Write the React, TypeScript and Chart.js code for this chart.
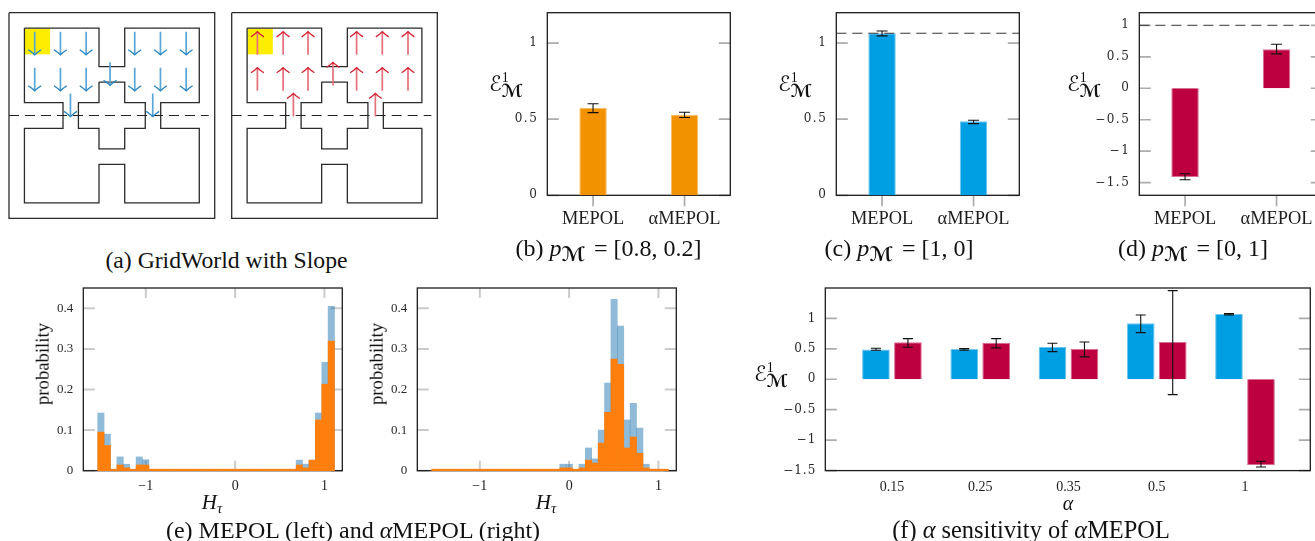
import React, { useEffect, useRef } from "react";
import { Chart, registerables } from "chart.js";

Chart.register(...registerables);

// ---- data ----
const METHODS = ["MEPOL", "αMEPOL"];
const B_VALUES = [0.575, 0.53];
const B_ERR_LOW = [0.543, 0.511];
const B_ERR_HIGH = [0.602, 0.546];
const C_VALUES = [1.065, 0.487];
const C_ERR_LOW = [1.048, 0.471];
const C_ERR_HIGH = [1.08, 0.493];
const C_OPTIMUM = 1.065;
const D_VALUES = [-1.41, 0.62];
const D_ERR_LOW = [-1.452, 0.546];
const D_ERR_HIGH = [-1.357, 0.7];
const D_OPTIMUM = 1;

const ALPHA_LABELS = ["0.15", "0.25", "0.35", "0.5", "1"];
const ALPHA_POS = [0, 1, 2, 3, 4];
const F_BLUE = [0.49, 0.498, 0.53, 0.92, 1.073];
const F_BLUE_LOW = [0.476, 0.478, 0.454, 0.766, 1.056];
const F_BLUE_HIGH = [0.509, 0.505, 0.591, 1.056, 1.078];
const F_RED = [0.607, 0.6, 0.498, 0.613, -1.407];
const F_RED_LOW = [0.525, 0.515, 0.367, -0.252, -1.44];
const F_RED_HIGH = [0.668, 0.668, 0.613, 1.456, -1.346];

const BIN_CENTERS = [-1.503, -1.431, -1.36, -1.288, -1.216, -1.145, -1.073, -1.001, -0.93, -0.858, -0.786, -0.715, -0.643, -0.571, -0.5, -0.428, -0.356, -0.284, -0.213, -0.141, -0.069, 0.002, 0.074, 0.146, 0.217, 0.289, 0.361, 0.432, 0.504, 0.576, 0.647, 0.719, 0.791, 0.862, 0.934, 1.006, 1.077];
const E1_BLUE = [0.142, 0.09, 0, 0.034, 0.016, 0, 0.034, 0.027, 0, 0, 0, 0, 0, 0, 0, 0, 0, 0, 0, 0, 0, 0, 0, 0, 0, 0, 0, 0, 0, 0, 0, 0.026, 0.016, 0.026, 0.142, 0.267, 0.405];
const E1_ORANGE = [0.095, 0.062, 0, 0.014, 0.007, 0, 0.014, 0.014, 0, 0, 0, 0, 0, 0, 0, 0, 0, 0, 0, 0, 0, 0, 0, 0, 0, 0, 0, 0, 0, 0, 0, 0.014, 0.007, 0.026, 0.125, 0.213, 0.319];
const E2_BLUE = [0, 0, 0, 0, 0, 0, 0, 0, 0, 0, 0, 0, 0, 0, 0, 0, 0, 0, 0, 0, 0.016, 0.016, 0, 0.016, 0.056, 0.029, 0.1, 0.216, 0.422, 0.356, 0.125, 0.166, 0.105, 0.016, 0, 0, 0];
const E2_ORANGE = [0, 0, 0, 0, 0, 0, 0, 0, 0, 0, 0, 0, 0, 0, 0, 0, 0, 0, 0, 0, 0.007, 0.007, 0, 0.007, 0.026, 0.019, 0.068, 0.144, 0.275, 0.262, 0.056, 0.083, 0.043, 0.007, 0, 0, 0];

// GridWorld geometry, in grid cells
const WORLD_SIZE = 8;
const OUTER_WALL = [[0.6, 0.6], [3.5, 0.6], [3.5, 2.1], [4.5, 2.1], [4.5, 0.6], [7.4, 0.6], [7.4, 3.5], [5.9, 3.5], [5.9, 4.5], [7.4, 4.5], [7.4, 7.4], [4.5, 7.4], [4.5, 5.9], [3.5, 5.9], [3.5, 7.4], [0.6, 7.4], [0.6, 4.5], [2.1, 4.5], [2.1, 3.5], [0.6, 3.5], [0.6, 0.6]];
const CROSS_WALL = [[3.5, 2.7], [4.5, 2.7], [4.5, 3.5], [5.3, 3.5], [5.3, 4.5], [4.5, 4.5], [4.5, 5.3], [3.5, 5.3], [3.5, 4.5], [2.7, 4.5], [2.7, 3.5], [3.5, 3.5], [3.5, 2.7]];
const FRAME_WALL = [[0, 0], [8, 0], [8, 8], [0, 8], [0, 0]];
const SLOPE_LINE = [[0, 4], [7.77, 4]];
const START_CELL = [0.62, 0.62, 1.6, 1.62];
// x, upper y of each arrow
const DOWN_ARROWS = [[1, 0.74], [2, 0.74], [3, 0.74], [4.89, 0.74], [5.89, 0.74], [6.89, 0.74], [1, 2.14], [2, 2.14], [3, 2.14], [4.89, 2.14], [5.89, 2.14], [6.89, 2.14], [3.93, 1.93], [2.39, 3.14], [5.59, 3.14]];
const UP_ARROWS = [[1, 0.74], [2, 0.74], [2.97, 0.74], [4.86, 0.74], [5.86, 0.74], [6.86, 0.74], [1, 2.14], [2, 2.14], [2.97, 2.14], [4.86, 2.14], [5.86, 2.14], [6.86, 2.14], [3.94, 1.93], [2.4, 3.14], [5.59, 3.14]];
const ARROW_LENGTH = 0.9;

// ---- styling ----
const BLUE = "#009FE3";
const BLUE_EDGE = "#6cc6ee";
const RED = "#BC0040";
const RED_EDGE = "#d96a90";
const ORANGE = "#F39200";
const ORANGE_EDGE = "#f8bd66";
const HIST_BLUE = "rgba(31,119,180,0.5)";
const HIST_ORANGE = "#FF7F0E";
const SERIF = "'Liberation Serif', serif";
const TICK_SERIF = "'DejaVu Serif', serif";
const TICK_GREY = "#acacac";
const FRAME = "#1c1c1c";

type Box = { l: number; t: number; r: number; b: number };
type Margins = { L: number; T: number; R: number; B: number };

function canvasRect(box: Box, pad: { l: number; t: number; r: number; b: number }) {
  const left = Math.floor(box.l - pad.l);
  const top = Math.floor(box.t - pad.t);
  const right = Math.ceil(box.r + pad.r);
  const bottom = Math.ceil(box.b + pad.b);
  return { left, top, w: right - left, h: bottom - top, M: { L: box.l - left, T: box.t - top, R: right - box.r, B: bottom - box.b } };
}

const PANEL_PAD = { l: 70, t: 6, r: 8, b: 48 };
const WORLD_PAD = { l: 2, t: 2, r: 2, b: 2 };

const fmt = (v: number) => {
  const s = String(Math.abs(Math.round(v * 100) / 100));
  return v < 0 ? "\u2212" + s : s;
};

function overlay(o: any) {
  return {
    id: "overlay",
    beforeDraw(c: any) {
      if (o.spacing) c.ctx.letterSpacing = o.spacing;
    },
    beforeDatasetsDraw(c: any) {
      const { ctx, chartArea: a, scales } = c;
      const { x, y } = scales;
      ctx.letterSpacing = "0px";
      ctx.save();
      ctx.strokeStyle = o.tickColor || TICK_GREY;
      ctx.lineWidth = o.tickWidth || 1.7;
      ctx.beginPath();
      const len = 11.5;
      y.ticks.forEach((t: any) => {
        const p = y.getPixelForValue(t.value);
        ctx.moveTo(a.left, p);
        ctx.lineTo(a.left + len, p);
        ctx.moveTo(a.right, p);
        ctx.lineTo(a.right - len, p);
      });
      if (o.xTicks) {
        x.ticks.forEach((t: any, i: number) => {
          const p = x.getPixelForTick(i);
          if (o.xTicks === "outer") {
            ctx.moveTo(p, a.bottom);
            ctx.lineTo(p, a.bottom + 11);
          } else {
            ctx.moveTo(p, a.top);
            ctx.lineTo(p, a.top + 10);
            ctx.moveTo(p, a.bottom);
            ctx.lineTo(p, a.bottom - 10);
          }
        });
      }
      ctx.stroke();
      ctx.strokeStyle = FRAME;
      ctx.lineWidth = 1.3;
      ctx.strokeRect(a.left, a.top, a.right - a.left, a.bottom - a.top);
      ctx.restore();
    },
    afterDatasetsDraw(c: any) {
      const { ctx, chartArea: a, scales } = c;
      const { y } = scales;
      ctx.save();
      if (o.ref !== undefined) {
        const p = y.getPixelForValue(o.ref);
        ctx.strokeStyle = "#333";
        ctx.lineWidth = 1;
        ctx.setLineDash([10, 6]);
        ctx.beginPath();
        ctx.moveTo(a.left, p);
        ctx.lineTo(a.right, p);
        ctx.stroke();
        ctx.setLineDash([]);
      }
      if (o.err) {
        ctx.strokeStyle = "#111";
        ctx.lineWidth = 1.1;
        const cap = o.cap || 5.5;
        o.err.forEach((e: number[][], di: number) => {
          const els = c.getDatasetMeta(di).data;
          e[0].forEach((low: number, j: number) => {
            const cx = els[j].x;
            const p0 = y.getPixelForValue(low);
            const p1 = y.getPixelForValue(e[1][j]);
            ctx.beginPath();
            ctx.moveTo(cx, p0);
            ctx.lineTo(cx, p1);
            ctx.moveTo(cx - cap, p0);
            ctx.lineTo(cx + cap, p0);
            ctx.moveTo(cx - cap, p1);
            ctx.lineTo(cx + cap, p1);
            ctx.stroke();
          });
        });
      }
      ctx.restore();
    },
  };
}

function baseOptions(M: Margins, yMin: number, yMax: number, step: number, yFont: any, pad: number) {
  return {
    responsive: false,
    animation: false as const,
    devicePixelRatio: 1,
    layout: { autoPadding: false, padding: { left: 0, top: M.T, right: M.R, bottom: 0 } },
    plugins: { legend: { display: false }, title: { display: false }, tooltip: { enabled: false } },
    scales: {
      y: {
        min: yMin,
        max: yMax,
        grid: { display: false, drawTicks: false },
        border: { display: false },
        afterFit: (s: any) => {
          s.width = M.L;
          s.paddingTop = 0;
          s.paddingBottom = 0;
        },
        ticks: {
          stepSize: step,
          includeBounds: false,
          autoSkip: false,
          padding: pad,
          z: 0,
          color: "#2a2a2a",
          font: yFont,
          callback: (v: number) => fmt(v),
        },
      },
    },
  };
}

function xBase(M: Margins, font: any, padding: number) {
  return {
    offset: false,
    grid: { display: false, drawTicks: false },
    border: { display: false },
    afterFit: (s: any) => {
      s.height = M.B;
      s.paddingLeft = 0;
      s.paddingRight = 0;
    },
    ticks: { font, padding, z: 1, color: "#1c1c1c", autoSkip: false, maxRotation: 0, minRotation: 0 },
  };
}

function twoBars(M: Margins, values: number[], low: number[], high: number[], color: string, edge: string, yMin: number, ref?: number) {
  const options: any = baseOptions(M, yMin, 1.2, 0.5, { family: TICK_SERIF, size: 12 }, 9);
  options.scales.x = xBase(M, { family: SERIF, size: 18.4 }, 13);
  options.scales.x.offset = true;
  return {
    type: "bar",
    data: {
      labels: METHODS,
      datasets: [{ data: values, backgroundColor: color, borderColor: edge, borderWidth: 1, barPercentage: 0.3, categoryPercentage: 1, clip: false }],
    },
    options,
    plugins: [overlay({ spacing: "1.5px", xTicks: "outer", err: [[low, high]], ref })],
  };
}

function histogram(M: Margins, blue: number[], orange: number[]) {
  const options: any = baseOptions(M, 0, 0.45, 0.1, { family: SERIF, size: 13 }, 10);
  options.scales.y.ticks.callback = (v: number) => (v === 0 ? "0" : v.toFixed(1));
  options.scales.x = xBase(M, { family: SERIF, size: 14 }, 7);
  options.scales.x.type = "linear";
  options.scales.x.min = -1.7;
  options.scales.x.max = 1.2;
  options.scales.x.ticks.stepSize = 1;
  options.scales.x.ticks.includeBounds = false;
  options.scales.x.ticks.callback = (v: number) => fmt(v);
  return {
    type: "bar",
    data: {
      datasets: [
        { data: blue.map((y, i) => ({ x: BIN_CENTERS[i], y })), backgroundColor: HIST_BLUE, grouped: false, order: 2, barPercentage: 1, categoryPercentage: 1, clip: false },
        { data: orange.map((y, i) => ({ x: BIN_CENTERS[i], y })), backgroundColor: HIST_ORANGE, grouped: false, order: 1, barPercentage: 1, categoryPercentage: 1, minBarLength: 1.5, clip: false },
      ],
    },
    options,
    plugins: [overlay({ xTicks: "inner", tickColor: "#cbcbcb", tickWidth: 2 })],
  };
}

function sensitivity(M: Margins) {
  const options: any = baseOptions(M, -1.5, 1.499, 0.5, { family: TICK_SERIF, size: 12 }, 9);
  options.scales.x = xBase(M, { family: SERIF, size: 14 }, 8);
  options.scales.x.type = "linear";
  options.scales.x.min = -0.755;
  options.scales.x.max = 4.74;
  options.scales.x.ticks.stepSize = 1;
  options.scales.x.ticks.includeBounds = false;
  options.scales.x.ticks.callback = (v: number) => ALPHA_LABELS[v];
  const ds = (vals: number[], bg: string, edge: string) => ({
    data: vals.map((y, i) => ({ x: ALPHA_POS[i], y })),
    backgroundColor: bg,
    borderColor: edge,
    borderWidth: 1,
    categoryPercentage: 0.725,
    barPercentage: 0.865,
    clip: false,
  });
  return {
    type: "bar",
    data: { datasets: [ds(F_BLUE, BLUE, BLUE_EDGE), ds(F_RED, RED, RED_EDGE)] },
    options,
    plugins: [overlay({ spacing: "1px", err: [[F_BLUE_LOW, F_BLUE_HIGH], [F_RED_LOW, F_RED_HIGH]], cap: 5 })],
  };
}

const toPts = (poly: number[][]) => poly.map(([x, y]) => ({ x, y }));

function world(M: Margins, arrows: number[][], up: boolean, stem: string, head: string) {
  const stems: any[] = [];
  const heads: any[] = [];
  arrows.forEach(([x, top]) => {
    const bottom = top + ARROW_LENGTH;
    const tip = up ? top : bottom;
    const tail = up ? bottom : top;
    const d = up ? 1 : -1;
    stems.push({ x, y: tail }, { x, y: tip }, { x: null, y: null });
    heads.push(
      { x: x - 0.25, y: tip + d * 0.2 },
      { x: x - 0.1, y: tip + d * 0.09 },
      { x, y: tip },
      { x: x + 0.1, y: tip + d * 0.09 },
      { x: x + 0.25, y: tip + d * 0.2 },
      { x: null, y: null }
    );
  });
  const line = (data: any[], color: string, width: number, extra: any = {}) => ({
    data,
    showLine: true,
    pointRadius: 0,
    borderColor: color,
    borderWidth: width,
    clip: false,
    spanGaps: false,
    ...extra,
  });
  return {
    type: "scatter",
    data: {
      datasets: [
        line(heads, head, 1.3),
        line(stems, stem, 1.7),
        line(toPts(SLOPE_LINE), "#222", 1, { borderDash: [10, 6] }),
        line(toPts(OUTER_WALL), "#2b2b2b", 1.3),
        line(toPts(CROSS_WALL), "#2b2b2b", 1.3),
        line(toPts(FRAME_WALL), "#2b2b2b", 1.3),
      ],
    },
    options: {
      responsive: false,
      animation: false as const,
      devicePixelRatio: 1,
      layout: { autoPadding: false, padding: { left: M.L, top: M.T, right: M.R, bottom: M.B } },
      plugins: { legend: { display: false }, tooltip: { enabled: false } },
      scales: {
        x: { display: false, min: 0, max: WORLD_SIZE },
        y: { display: false, min: 0, max: WORLD_SIZE, reverse: true },
      },
    },
    plugins: [
      {
        id: "startCell",
        beforeDatasetsDraw(c: any) {
          const { x, y } = c.scales;
          const [x0, y0, x1, y1] = START_CELL;
          c.ctx.save();
          c.ctx.fillStyle = "#FFED00";
          c.ctx.fillRect(x.getPixelForValue(x0), y.getPixelForValue(y0), x.getPixelForValue(x1) - x.getPixelForValue(x0), y.getPixelForValue(y1) - y.getPixelForValue(y0));
          c.ctx.restore();
        },
      },
    ],
  };
}

function Panel({ box, pad = PANEL_PAD, make }: { box: Box; pad?: any; make: (M: Margins) => any }) {
  const ref = useRef<HTMLCanvasElement | null>(null);
  const { left, top, w, h, M } = canvasRect(box, pad);
  useEffect(() => {
    const chart = new Chart(ref.current as HTMLCanvasElement, make(M));
    return () => chart.destroy();
  }, []);
  return <canvas ref={ref} width={w} height={h} style={{ position: "absolute", left, top, width: w, height: h }} />;
}

function Txt({ x, y, size = 24, rotate = 0, children }: any) {
  return (
    <div style={{ position: "absolute", left: x, top: y, transform: `translate(-50%,-50%) rotate(${rotate}deg)`, fontFamily: SERIF, fontSize: size, lineHeight: 1, whiteSpace: "nowrap", color: "#111" }}>
      {children}
    </div>
  );
}

function Energy({ x, y }: { x: number; y: number }) {
  return (
    <Txt x={x} y={y}>
      <span style={{ fontFamily: "'DejaVu Sans', sans-serif", fontSize: 21 }}>ℰ</span>
      <span style={{ display: "inline-block", width: 0, position: "relative", top: -9, fontSize: 14 }}>1</span>
      <span style={{ fontFamily: "'DejaVu Sans', sans-serif", fontWeight: 700, fontSize: 18, position: "relative", top: 6 }}>ℳ</span>
    </Txt>
  );
}

function Pm() {
  return (
    <>
      <i>p</i>
      <span style={{ fontFamily: "'DejaVu Sans', sans-serif", fontWeight: 700, fontSize: 20, position: "relative", top: 5, marginRight: 3 }}>ℳ</span>
    </>
  );
}

function HTau({ x, y }: { x: number; y: number }) {
  return (
    <Txt x={x} y={y} size={21}>
      <i>H</i>
      <i style={{ fontSize: 15, position: "relative", top: 4 }}>τ</i>
    </Txt>
  );
}

const BOX_B = { l: 547.3, t: 12.7, r: 730.3, b: 195.3 };
const BOX_C = { l: 836.3, t: 12.7, r: 1019.3, b: 195.3 };
const BOX_D = { l: 1139.3, t: 12.7, r: 1322.3, b: 195.3 };
const BOX_E1 = { l: 83.3, t: 288, r: 342.3, b: 470.7 };
const BOX_E2 = { l: 417.3, t: 288, r: 676.3, b: 470.7 };
const BOX_F = { l: 825.3, t: 288, r: 1310.3, b: 470.6 };
const BOX_W1 = { l: 9, t: 12.7, r: 214.7, b: 218.3 };
const BOX_W2 = { l: 231.7, t: 12.7, r: 437.3, b: 218.3 };

export default function App() {
  useEffect(() => {
    document.body.style.margin = "0";
  }, []);
  return (
    <div style={{ position: "fixed", left: 0, top: 0, width: 1315, height: 541, overflow: "hidden", background: "#fff" }}>
      <Panel box={BOX_W1} pad={WORLD_PAD} make={(M) => world(M, DOWN_ARROWS, false, "#5aa6d8", "#2a86c4")} />
      <Panel box={BOX_W2} pad={WORLD_PAD} make={(M) => world(M, UP_ARROWS, true, "#e5707a", "#d62230")} />
      <Panel box={BOX_B} make={(M) => twoBars(M, B_VALUES, B_ERR_LOW, B_ERR_HIGH, ORANGE, ORANGE_EDGE, 0)} />
      <Panel box={BOX_C} make={(M) => twoBars(M, C_VALUES, C_ERR_LOW, C_ERR_HIGH, BLUE, BLUE_EDGE, 0, C_OPTIMUM)} />
      <Panel box={BOX_D} make={(M) => twoBars(M, D_VALUES, D_ERR_LOW, D_ERR_HIGH, RED, RED_EDGE, -1.7, D_OPTIMUM)} />
      <Panel box={BOX_E1} make={(M) => histogram(M, E1_BLUE, E1_ORANGE)} />
      <Panel box={BOX_E2} make={(M) => histogram(M, E2_BLUE, E2_ORANGE)} />
      <Panel box={BOX_F} make={sensitivity} />

      <Energy x={506} y={83} />
      <Energy x={795} y={83} />
      <Energy x={1084} y={83} />
      <Energy x={771} y={373} />

      <Txt x={43} y={364} size={18.7} rotate={-90}>probability</Txt>
      <Txt x={377} y={364} size={18.7} rotate={-90}>probability</Txt>
      <HTau x={212} y={502} />
      <HTau x={546} y={502} />
      <Txt x={1068} y={503} size={20}><i>α</i></Txt>

      <Txt x={226.5} y={261} size={23.7}>(a) GridWorld with Slope</Txt>
      <Txt x={608.5} y={248}>(b) <Pm /> = [0.8, 0.2]</Txt>
      <Txt x={899} y={248}>(c) <Pm /> = [1, 0]</Txt>
      <Txt x={1193} y={248}>(d) <Pm /> = [0, 1]</Txt>
      <Txt x={353} y={530}>(e) MEPOL (left) and <i>α</i>MEPOL (right)</Txt>
      <Txt x={1031} y={530} size={24.4}>(f) <i>α</i> sensitivity of <i>α</i>MEPOL</Txt>
    </div>
  );
}
